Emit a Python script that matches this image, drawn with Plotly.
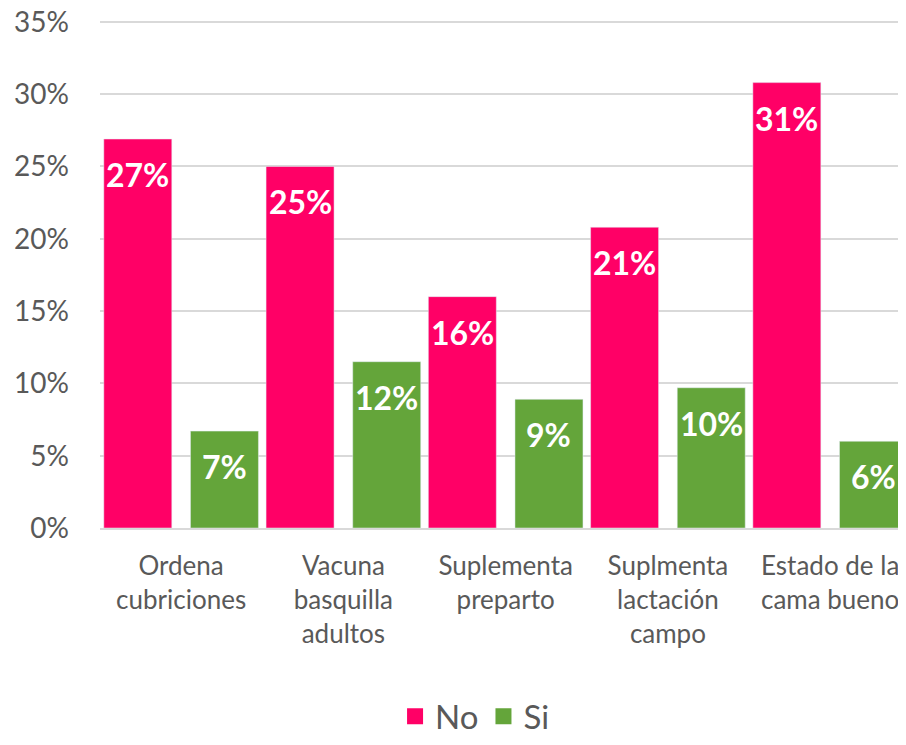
import plotly.graph_objects as go

categories = ["Ordena<br>cubriciones", "Vacuna<br>basquilla<br>adultos", "Suplementa<br>preparto",
              "Suplmenta<br>lactación<br>campo", "Estado de la<br>cama bueno"]
no_values = [0.269, 0.250, 0.160, 0.208, 0.308]
si_values = [0.067, 0.115, 0.089, 0.097, 0.060]
y_ticks = [0, 0.05, 0.10, 0.15, 0.20, 0.25, 0.30, 0.35]
y_tick_labels = ["0%", "5%", "10%", "15%", "20%", "25%", "30%", "35%"]

PINK = "#FF0066"
GREEN = "#64A53A"
GRAY = "#595959"
FONT = "Lato, 'Open Sans', sans-serif"

# the page body adds an 8px margin on every side; keep the figure inside the window
W, H = 890, 729
bar_w = 0.419
inner = 0.115
period_px = 162.25
center_shift_px = (bar_w / 2 + inner / 2) * period_px

fig = go.Figure()
fig.add_trace(go.Bar(
    name="No", x=categories, y=no_values, marker_color=PINK,
    width=bar_w, offset=-(bar_w + inner / 2), showlegend=False,
))
fig.add_trace(go.Bar(
    name="Si", x=categories, y=si_values, marker_color=GREEN,
    width=bar_w, offset=inner / 2, showlegend=False,
))
# legend entries
for nm, col in [("No", PINK), ("Si", GREEN)]:
    fig.add_trace(go.Scatter(
        name=nm, x=[None], y=[None], mode="markers",
        marker=dict(symbol="square", size=16, color=col), showlegend=True,
    ))

annotations = []
for vals, sgn in [(no_values, -1), (si_values, 1)]:
    for cat, v in zip(categories, vals):
        annotations.append(dict(
            x=cat, y=v, xref="x", yref="y", text=f"{v:.0%}", showarrow=False,
            xanchor="center", yanchor="top", xshift=sgn * center_shift_px, yshift=-14,
            font=dict(family=FONT, size=32, color="white", weight="bold"),
        ))

fig.update_layout(
    width=W, height=H,
    margin=dict(l=92, r=0, t=11, b=209, autoexpand=False),
    paper_bgcolor="white", plot_bgcolor="white",
    barmode="overlay",
    font=dict(family=FONT, color=GRAY),
    annotations=annotations,
    legend=dict(
        orientation="h",
        x=0.47, xanchor="center", y=-0.37, yanchor="middle",
        font=dict(size=33, color=GRAY), itemsizing="trace",
    ),
)
fig.update_xaxes(
    type="category", range=[-0.5, 4.418], automargin=False,
    showline=True, linecolor="#D9D9D9", linewidth=2,
    showgrid=False, ticks="", ticklabelstandoff=14,
    tickfont=dict(family=FONT, size=26, color=GRAY),
    tickangle=0, ticklabeloverflow="allow",
)
fig.update_yaxes(
    range=[0, 0.352], tickvals=y_ticks, ticktext=y_tick_labels, automargin=False,
    showgrid=True, gridcolor="#D9D9D9", gridwidth=1.5,
    zeroline=False, showline=False, ticks="", ticklabelstandoff=30,
    tickfont=dict(family=FONT, size=28, color=GRAY), ticklabeloverflow="allow",
)

fig.write_html("out.html")
